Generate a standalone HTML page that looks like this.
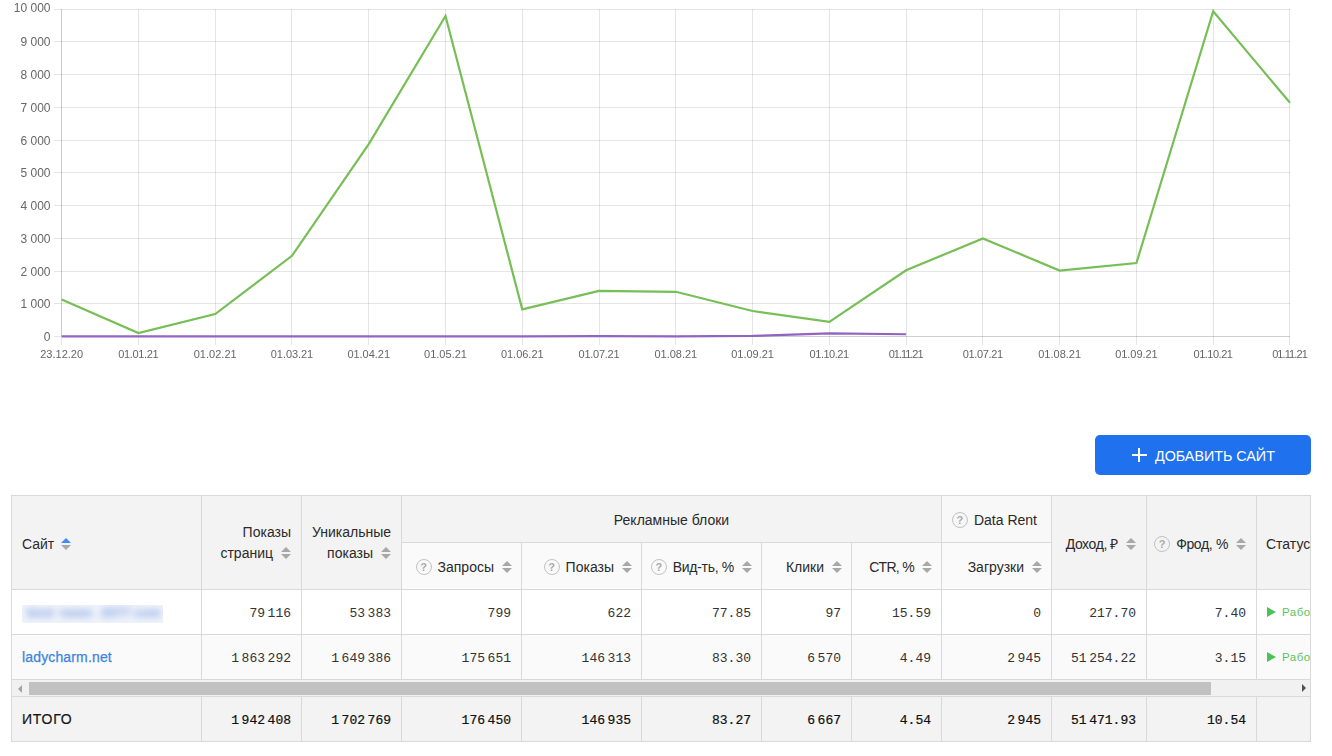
<!DOCTYPE html>
<html lang="ru">
<head>
<meta charset="utf-8">
<title>Сайты</title>
<style>
*{box-sizing:border-box;margin:0;padding:0}
html,body{width:1332px;height:756px;overflow:hidden;background:#fff}
body{position:relative;font-family:"Liberation Sans",Arial,sans-serif;color:#222}
#chart{position:absolute;left:0;top:0;will-change:transform}
.btn{position:absolute;left:1095px;top:435px;width:216px;height:40px;background:#1f71ee;border-radius:5px;color:#fff;font-size:14.3px;line-height:40px}
.btn .plus{position:absolute;left:36.5px;top:13px;width:15px;height:14px}
.btn .plus:before{content:"";position:absolute;left:0;top:6px;width:15px;height:2px;background:#fff}
.btn .plus:after{content:"";position:absolute;left:6.5px;top:0;width:2px;height:14px;background:#fff}
.btn .t{position:absolute;left:60px;top:1px}
.tw{position:absolute;left:11px;top:495px;width:1300px;height:247px;border:1px solid #d9d9d9;overflow:hidden;background:#d9d9d9}
.tw .in{position:absolute;left:-12px;top:-496px;width:1400px;height:800px}
.c{position:absolute;overflow:hidden;font-size:14px;line-height:20px}
.ht{position:absolute;white-space:nowrap;color:#2a2a2a}
.si{position:absolute}
.rt{position:absolute;right:10px;text-align:right;white-space:nowrap;color:#2a2a2a;line-height:20.5px}
.ctr{position:absolute;left:0;right:0;text-align:center;white-space:nowrap;color:#2a2a2a}
i.s{display:inline-block;position:relative;width:10px;height:12px;margin-left:8px;vertical-align:-1px}
i.s:before{content:"";position:absolute;left:0;top:0;border-left:5px solid transparent;border-right:5px solid transparent;border-bottom:5px solid #a8a8a8}
i.s:after{content:"";position:absolute;left:0;top:7px;border-left:5px solid transparent;border-right:5px solid transparent;border-top:5px solid #a8a8a8}
i.sb:before{border-bottom-color:#3a8ef6}
.si i.s{margin-left:0}
i.q{display:inline-block;width:16px;height:16px;border:1px solid #c2c2c2;border-radius:50%;font-style:normal;font-size:11px;font-weight:bold;line-height:14px;text-align:center;color:#ababab;margin-right:6px;vertical-align:1px}
.n{position:absolute;right:10px;top:14px;font-family:"Liberation Mono",monospace;font-size:13px;color:#333;white-space:nowrap}
.n.b{color:#111;-webkit-text-stroke:0.2px #111}
.lnk{position:absolute;left:10px;top:12px;color:#3a84de;font-size:14px;letter-spacing:0.15px;text-decoration:none;-webkit-text-stroke:0.25px #3a84de}
.tot{position:absolute;left:10px;top:12px;font-size:14px;letter-spacing:0.8px;color:#151515;-webkit-text-stroke:0.2px #151515}
.blur{position:absolute;left:10px;top:15px;width:141px;height:18px;overflow:hidden;background:#f0f3fb}
.blur span{position:absolute;top:1px;font-size:13px;line-height:14px;font-weight:bold;color:#7fa3e2;filter:blur(3.8px);white-space:nowrap}
.st{position:absolute;left:10px;top:12px;color:#5cc25e;font-size:11.5px;letter-spacing:0.5px;white-space:nowrap}
.pl{display:inline-block;width:0;height:0;border-top:5px solid transparent;border-bottom:5px solid transparent;border-left:9px solid #4cc157;margin-right:6px;vertical-align:-1px}
.sb-track{position:absolute;left:12px;top:680px;width:1298px;height:16px;background:#f1f1f1}
.sb-l{position:absolute;left:6px;top:4.5px;border-top:4px solid transparent;border-bottom:4px solid transparent;border-right:4.5px solid #a3a3a3}
.sb-r{position:absolute;right:4px;top:4px;border-top:4px solid transparent;border-bottom:4px solid transparent;border-left:4.5px solid #505050}
.sb-th{position:absolute;left:17px;top:2px;width:1182px;height:13px;background:#c1c1c1}
</style>
</head>
<body>
<svg id="chart" width="1332" height="372" viewBox="0 0 1332 372" shape-rendering="crispEdges">
<g stroke="#000" stroke-opacity="0.1" stroke-width="1">
<line x1="54" y1="9.5" x2="1290" y2="9.5"/>
<line x1="54" y1="41.5" x2="1290" y2="41.5"/>
<line x1="54" y1="74.5" x2="1290" y2="74.5"/>
<line x1="54" y1="107.5" x2="1290" y2="107.5"/>
<line x1="54" y1="140.5" x2="1290" y2="140.5"/>
<line x1="54" y1="172.5" x2="1290" y2="172.5"/>
<line x1="54" y1="205.5" x2="1290" y2="205.5"/>
<line x1="54" y1="238.5" x2="1290" y2="238.5"/>
<line x1="54" y1="271.5" x2="1290" y2="271.5"/>
<line x1="54" y1="303.5" x2="1290" y2="303.5"/>
<line x1="54" y1="336.5" x2="61" y2="336.5"/>
<line x1="61.5" y1="337" x2="61.5" y2="345"/>
<line x1="138.5" y1="9" x2="138.5" y2="345"/>
<line x1="215.5" y1="9" x2="215.5" y2="345"/>
<line x1="291.5" y1="9" x2="291.5" y2="345"/>
<line x1="368.5" y1="9" x2="368.5" y2="345"/>
<line x1="445.5" y1="9" x2="445.5" y2="345"/>
<line x1="522.5" y1="9" x2="522.5" y2="345"/>
<line x1="599.5" y1="9" x2="599.5" y2="345"/>
<line x1="675.5" y1="9" x2="675.5" y2="345"/>
<line x1="752.5" y1="9" x2="752.5" y2="345"/>
<line x1="829.5" y1="9" x2="829.5" y2="345"/>
<line x1="906.5" y1="9" x2="906.5" y2="345"/>
<line x1="982.5" y1="9" x2="982.5" y2="345"/>
<line x1="1059.5" y1="9" x2="1059.5" y2="345"/>
<line x1="1136.5" y1="9" x2="1136.5" y2="345"/>
<line x1="1213.5" y1="9" x2="1213.5" y2="345"/>
<line x1="1289.5" y1="9" x2="1289.5" y2="345"/>
</g>
<line x1="61.5" y1="9" x2="61.5" y2="337" stroke="#000" stroke-opacity="0.2" stroke-width="1"/>
<line x1="62" y1="336.5" x2="1290" y2="336.5" stroke="#000" stroke-opacity="0.19" stroke-width="1"/>
<g font-family="Liberation Sans, Arial, sans-serif" font-size="12" fill="#666" text-anchor="end" shape-rendering="auto">
<text x="50.5" y="11.8">10 000</text>
<text x="50.5" y="45.8">9 000</text>
<text x="50.5" y="78.8">8 000</text>
<text x="50.5" y="111.8">7 000</text>
<text x="50.5" y="144.8">6 000</text>
<text x="50.5" y="176.8">5 000</text>
<text x="50.5" y="209.8">4 000</text>
<text x="50.5" y="242.8">3 000</text>
<text x="50.5" y="275.8">2 000</text>
<text x="50.5" y="307.8">1 000</text>
<text x="50.5" y="340.8">0</text>
</g>
<g font-family="Liberation Sans, Arial, sans-serif" font-size="11" fill="#666" text-anchor="middle" shape-rendering="auto">
<text x="61.65" y="358" textLength="42.9" lengthAdjust="spacing">23.12.20</text>
<text x="138.42" y="358" textLength="40.2" lengthAdjust="spacing">01.01.21</text>
<text x="215.19" y="358" textLength="42.9" lengthAdjust="spacing">01.02.21</text>
<text x="291.96" y="358" textLength="42.3" lengthAdjust="spacing">01.03.21</text>
<text x="368.73" y="358" textLength="42.7" lengthAdjust="spacing">01.04.21</text>
<text x="445.50" y="358" textLength="42.9" lengthAdjust="spacing">01.05.21</text>
<text x="522.27" y="358" textLength="42.7" lengthAdjust="spacing">01.06.21</text>
<text x="599.04" y="358" textLength="41" lengthAdjust="spacing">01.07.21</text>
<text x="675.81" y="358" textLength="42.7" lengthAdjust="spacing">01.08.21</text>
<text x="752.58" y="358" textLength="42.7" lengthAdjust="spacing">01.09.21</text>
<text x="829.35" y="358" textLength="39.5" lengthAdjust="spacing">01.10.21</text>
<text x="906.12" y="358" textLength="34.8" lengthAdjust="spacing">01.11.21</text>
<text x="982.89" y="358" textLength="40.5" lengthAdjust="spacing">01.07.21</text>
<text x="1059.66" y="358" textLength="42.9" lengthAdjust="spacing">01.08.21</text>
<text x="1136.43" y="358" textLength="42.6" lengthAdjust="spacing">01.09.21</text>
<text x="1213.20" y="358" textLength="39.4" lengthAdjust="spacing">01.10.21</text>
<text x="1289.97" y="358" textLength="35.6" lengthAdjust="spacing">01.11.21</text>
</g>
<polyline points="61.65,336.40 138.42,336.40 215.19,336.40 291.96,336.40 368.73,336.40 445.50,336.40 522.27,336.40 599.04,336.07 675.81,336.40 752.58,335.91 829.35,333.46 906.12,334.27" fill="none" stroke="#9264c2" stroke-width="2.2" stroke-linejoin="miter" shape-rendering="auto"/>
<polyline points="61.65,299.61 138.42,333.00 215.19,314.10 291.96,255.79 368.73,144.19 445.50,16.01 522.27,309.39 599.04,290.82 675.81,291.80 752.58,310.99 829.35,321.85 906.12,270.31 982.89,238.40 1059.66,270.61 1136.43,263.09 1213.20,11.30 1289.97,102.79" fill="none" stroke="#77be56" stroke-width="2.2" stroke-linejoin="miter" shape-rendering="auto"/>
</svg>
<div class="btn"><span class="plus"></span><span class="t">ДОБАВИТЬ САЙТ</span></div>
<div class="tw"><div class="in">
<div class="c " style="left:12px;top:496px;width:189px;height:93px;background:#f3f3f3;"><span class="ht" style="left:10px;top:38px">Сайт</span><span class="si" style="left:49px;top:38px"><i class="s sb"></i></span></div>
<div class="c " style="left:202px;top:496px;width:99px;height:93px;background:#f3f3f3;"><div class="rt" style="top:26px">Показы<br>страниц<i class="s"></i></div></div>
<div class="c " style="left:302px;top:496px;width:99px;height:93px;background:#f3f3f3;"><div class="rt" style="top:26px">Уникальные<br>показы<i class="s"></i></div></div>
<div class="c " style="left:402px;top:496px;width:539px;height:46px;background:#f3f3f3;"><div class="ctr" style="top:14px">Рекламные блоки</div></div>
<div class="c " style="left:402px;top:543px;width:119px;height:46px;background:#fafafa;"><div class="rt" style="top:14px;right:9px"><i class="q">?</i>Запросы<i class="s"></i></div></div>
<div class="c " style="left:522px;top:543px;width:119px;height:46px;background:#fafafa;"><div class="rt" style="top:14px;right:9px"><i class="q">?</i>Показы<i class="s"></i></div></div>
<div class="c " style="left:642px;top:543px;width:119px;height:46px;background:#fafafa;"><div class="rt" style="top:14px;right:9px"><i class="q">?</i><span style="letter-spacing:-0.3px">Вид-ть, %</span><i class="s"></i></div></div>
<div class="c " style="left:762px;top:543px;width:89px;height:46px;background:#fafafa;"><div class="rt" style="top:14px;right:9px">Клики<i class="s"></i></div></div>
<div class="c " style="left:852px;top:543px;width:89px;height:46px;background:#fafafa;"><div class="rt" style="top:14px;right:9px"><span style="letter-spacing:-0.7px">CTR, %</span><i class="s"></i></div></div>
<div class="c " style="left:942px;top:496px;width:109px;height:46px;background:#f8f8f8;"><div class="ctr" style="top:14px;padding-right:4px"><i class="q">?</i>Data Rent</div></div>
<div class="c " style="left:942px;top:543px;width:109px;height:46px;background:#fafafa;"><div class="rt" style="top:14px;right:9px">Загрузки<i class="s"></i></div></div>
<div class="c " style="left:1052px;top:496px;width:94px;height:93px;background:#f3f3f3;"><div class="rt" style="top:38px"><span style="letter-spacing:-0.4px">Доход, ₽</span><i class="s"></i></div></div>
<div class="c " style="left:1147px;top:496px;width:109px;height:93px;background:#f3f3f3;"><div class="rt" style="top:38px"><i class="q">?</i><span style="letter-spacing:-0.35px">Фрод, %</span><i class="s"></i></div></div>
<div class="c " style="left:1257px;top:496px;width:123px;height:93px;background:#f3f3f3;"><span class="ht" style="left:9px;top:38px">Статус</span></div>
<div class="c " style="left:12px;top:590px;width:189px;height:44px;background:#fff;"><div class="blur"><span style="left:5px">best</span><span style="left:38px">news</span><span style="left:79px">2077</span><span style="left:112px">com</span></div></div>
<div class="c " style="left:202px;top:590px;width:99px;height:44px;background:#fff;"><div class="n ">79 116</div></div>
<div class="c " style="left:302px;top:590px;width:99px;height:44px;background:#fff;"><div class="n ">53 383</div></div>
<div class="c " style="left:402px;top:590px;width:119px;height:44px;background:#fff;"><div class="n ">799</div></div>
<div class="c " style="left:522px;top:590px;width:119px;height:44px;background:#fff;"><div class="n ">622</div></div>
<div class="c " style="left:642px;top:590px;width:119px;height:44px;background:#fff;"><div class="n ">77.85</div></div>
<div class="c " style="left:762px;top:590px;width:89px;height:44px;background:#fff;"><div class="n ">97</div></div>
<div class="c " style="left:852px;top:590px;width:89px;height:44px;background:#fff;"><div class="n ">15.59</div></div>
<div class="c " style="left:942px;top:590px;width:109px;height:44px;background:#fff;"><div class="n ">0</div></div>
<div class="c " style="left:1052px;top:590px;width:94px;height:44px;background:#fff;"><div class="n ">217.70</div></div>
<div class="c " style="left:1147px;top:590px;width:109px;height:44px;background:#fff;"><div class="n ">7.40</div></div>
<div class="c " style="left:1257px;top:590px;width:123px;height:44px;background:#fff;"><span class="st"><i class="pl"></i>Работает</span></div>
<div class="c " style="left:12px;top:635px;width:189px;height:44px;background:#fafafa;"><a class="lnk">ladycharm.net</a></div>
<div class="c " style="left:202px;top:635px;width:99px;height:44px;background:#fafafa;"><div class="n ">1 863 292</div></div>
<div class="c " style="left:302px;top:635px;width:99px;height:44px;background:#fafafa;"><div class="n ">1 649 386</div></div>
<div class="c " style="left:402px;top:635px;width:119px;height:44px;background:#fafafa;"><div class="n ">175 651</div></div>
<div class="c " style="left:522px;top:635px;width:119px;height:44px;background:#fafafa;"><div class="n ">146 313</div></div>
<div class="c " style="left:642px;top:635px;width:119px;height:44px;background:#fafafa;"><div class="n ">83.30</div></div>
<div class="c " style="left:762px;top:635px;width:89px;height:44px;background:#fafafa;"><div class="n ">6 570</div></div>
<div class="c " style="left:852px;top:635px;width:89px;height:44px;background:#fafafa;"><div class="n ">4.49</div></div>
<div class="c " style="left:942px;top:635px;width:109px;height:44px;background:#fafafa;"><div class="n ">2 945</div></div>
<div class="c " style="left:1052px;top:635px;width:94px;height:44px;background:#fafafa;"><div class="n ">51 254.22</div></div>
<div class="c " style="left:1147px;top:635px;width:109px;height:44px;background:#fafafa;"><div class="n ">3.15</div></div>
<div class="c " style="left:1257px;top:635px;width:123px;height:44px;background:#fafafa;"><span class="st"><i class="pl"></i>Работает</span></div>
<div class="c " style="left:12px;top:697px;width:189px;height:44px;background:#f3f3f3;"><span class="tot">ИТОГО</span></div>
<div class="c " style="left:202px;top:697px;width:99px;height:44px;background:#f3f3f3;"><div class="n b">1 942 408</div></div>
<div class="c " style="left:302px;top:697px;width:99px;height:44px;background:#f3f3f3;"><div class="n b">1 702 769</div></div>
<div class="c " style="left:402px;top:697px;width:119px;height:44px;background:#f3f3f3;"><div class="n b">176 450</div></div>
<div class="c " style="left:522px;top:697px;width:119px;height:44px;background:#f3f3f3;"><div class="n b">146 935</div></div>
<div class="c " style="left:642px;top:697px;width:119px;height:44px;background:#f3f3f3;"><div class="n b">83.27</div></div>
<div class="c " style="left:762px;top:697px;width:89px;height:44px;background:#f3f3f3;"><div class="n b">6 667</div></div>
<div class="c " style="left:852px;top:697px;width:89px;height:44px;background:#f3f3f3;"><div class="n b">4.54</div></div>
<div class="c " style="left:942px;top:697px;width:109px;height:44px;background:#f3f3f3;"><div class="n b">2 945</div></div>
<div class="c " style="left:1052px;top:697px;width:94px;height:44px;background:#f3f3f3;"><div class="n b">51 471.93</div></div>
<div class="c " style="left:1147px;top:697px;width:109px;height:44px;background:#f3f3f3;"><div class="n b">10.54</div></div>
<div class="c " style="left:1257px;top:697px;width:123px;height:44px;background:#f3f3f3;"></div>
<div class="sb-track"><i class="sb-l"></i><i class="sb-th"></i><i class="sb-r"></i></div>
</div></div>
</body>
</html>
